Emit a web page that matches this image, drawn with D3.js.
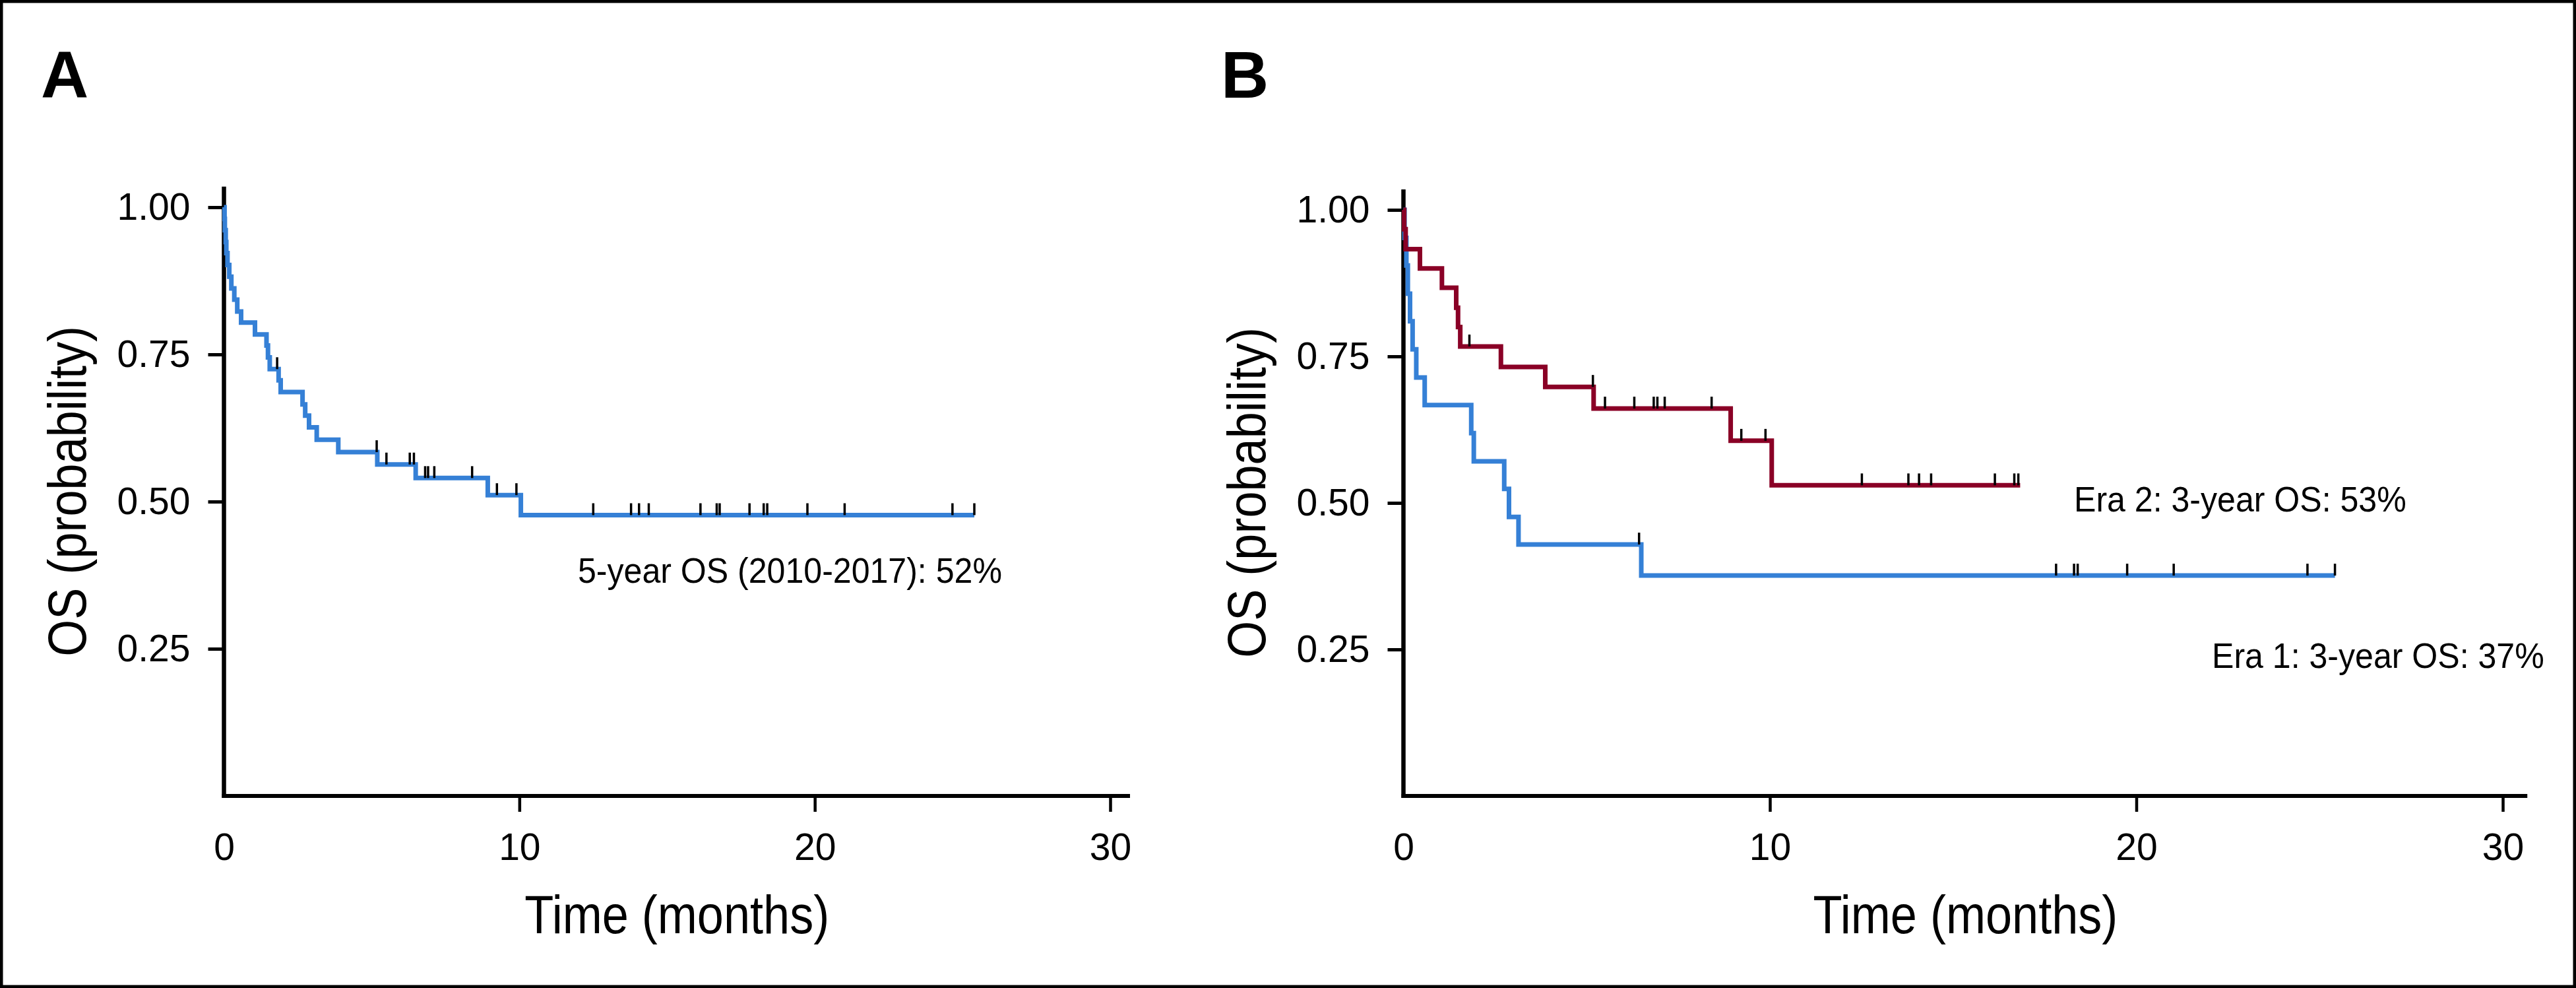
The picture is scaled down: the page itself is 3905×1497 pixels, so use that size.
<!DOCTYPE html>
<html>
<head>
<meta charset="utf-8">
<script src="https://cdn.jsdelivr.net/npm/d3@7"></script>
<style>
body { margin: 0; background: #fff; }
</style>
</head>
<body>
<svg id="chart"></svg>
<script>
const W = 3905, H = 1497;
const font = "'Liberation Sans', Arial, Helvetica, sans-serif";

// axis ticks
const xTicks = [0, 10, 20, 30];
const yTicks = [0.25, 0.50, 0.75, 1.00];

// panel A: all patients (2010-2017)
const allTimes = [0.02, 0.03, 0.06, 0.08, 0.12, 0.18, 0.25, 0.35, 0.45, 0.58, 1.05, 1.44, 1.49, 1.55,
                  1.85, 1.92, 2.66, 2.75, 2.88, 3.14, 3.87, 5.19, 6.49, 8.93, 10.05];
const allSurv = [0.980, 0.961, 0.941, 0.922, 0.902, 0.882, 0.862, 0.843, 0.823, 0.804, 0.784, 0.765, 0.745, 0.725,
                 0.706, 0.686, 0.665, 0.646, 0.626, 0.605, 0.584, 0.563, 0.540, 0.511, 0.477];
const allCensor = [1.80, 5.17, 5.50, 6.29, 6.43, 6.81, 6.91, 7.12, 8.40, 9.24, 9.90, 12.50, 13.78, 14.05, 14.38,
                   16.13, 16.68, 16.78, 17.79, 18.27, 18.39, 19.75, 21.01, 24.66, 25.40];
const allEnd = 25.40;

// panel B: era 1
const era1Times = [0.03, 0.08, 0.12, 0.18, 0.25, 0.35, 0.58, 1.85, 1.92, 2.75, 2.88, 3.14, 6.49];
const era1Surv = [0.952, 0.905, 0.857, 0.810, 0.762, 0.714, 0.667, 0.619, 0.571, 0.524, 0.476, 0.429, 0.376];
const era1Censor = [6.43, 17.81, 18.30, 18.40, 19.75, 21.02, 24.67, 25.42];
const era1End = 25.42;

// panel B: era 2
const era2Times = [0.02, 0.06, 0.45, 1.05, 1.44, 1.49, 1.55, 2.66, 3.87, 5.19, 8.93, 10.05];
const era2Surv = [0.967, 0.933, 0.900, 0.867, 0.833, 0.800, 0.767, 0.732, 0.698, 0.661, 0.606, 0.530];
const era2Censor = [1.80, 5.17, 5.50, 6.30, 6.83, 6.93, 7.13, 8.41, 9.22, 9.88, 12.51, 13.78, 14.07, 14.40,
                    16.14, 16.67, 16.78];
const era2End = 16.83;

const blue = "#3580d6", red = "#8a0026";

const svg = d3.select("#chart")
    .attr("width", W)
    .attr("height", H);

svg.append("rect")
    .attr("width", W)
    .attr("height", H)
    .attr("fill", "#fff");

// frame
svg.append("rect")
    .attr("x", 2.25)
    .attr("y", 2.25)
    .attr("width", W - 4.5)
    .attr("height", H - 4.5)
    .attr("fill", "none")
    .attr("stroke", "#000")
    .attr("stroke-width", 4.5);

function levelAt(times, surv, t) {
    let s = 1;
    times.forEach((tt, i) => { if (tt <= t) s = surv[i]; });
    return s;
}

// narrow-ish text, the original uses a condensed face
function label(g, x, y, size, sx, txt, rot) {
    return g.append("text")
        .attr("transform", `translate(${x},${y})` + (rot ? ` rotate(${rot})` : "") + ` scale(${sx},1)`)
        .attr("font-family", font)
        .attr("font-size", size)
        .text(txt);
}

function drawPanel(p) {
    const x = d3.scaleLinear().domain([0, 30]).range(p.xRange);
    const y = d3.scaleLinear().domain([0, 1]).range(p.yRange);
    const g = svg.append("g");

    // y axis
    const yAxis = g.append("g")
        .attr("transform", `translate(${x(0)},0)`)
        .call(d3.axisLeft(y).tickValues(yTicks).tickFormat(d3.format(".2f")).tickSize(24).tickPadding(27));
    yAxis.select(".domain").remove();
    yAxis.attr("font-size", 57).attr("font-family", font);
    yAxis.selectAll(".tick line").attr("stroke", "#000").attr("stroke-width", 5);
    yAxis.selectAll(".tick text").attr("fill", "#000");

    // x axis
    const xAxis = g.append("g")
        .attr("transform", `translate(0,${y(0)})`)
        .call(d3.axisBottom(x).tickValues(xTicks).tickSize(24).tickPadding(33));
    xAxis.select(".domain").remove();
    xAxis.attr("font-size", 57).attr("font-family", font);
    xAxis.selectAll(".tick line")
        .attr("stroke", "#000")
        .attr("stroke-width", 4.5)
        .attr("display", d => d === 0 ? "none" : null);
    xAxis.selectAll(".tick text").attr("fill", "#000");

    // axis lines
    g.append("line")
        .attr("x1", x(0)).attr("x2", x(0))
        .attr("y1", y(1.035)).attr("y2", y(0) + 3)
        .attr("stroke", "#000")
        .attr("stroke-width", 6.5);
    g.append("line")
        .attr("x1", x(0) - 3).attr("x2", x(30.67))
        .attr("y1", y(0)).attr("y2", y(0))
        .attr("stroke", "#000")
        .attr("stroke-width", 6);

    // curves
    const line = d3.line()
        .x(d => x(d[0]))
        .y(d => y(d[1]))
        .curve(d3.curveStepAfter);

    p.series.forEach(s => {
        const pts = [[0, 1]].concat(s.times.map((t, i) => [t, s.surv[i]]));
        pts.push([s.end, s.surv[s.surv.length - 1]]);
        g.append("path")
            .attr("d", line(pts))
            .attr("fill", "none")
            .attr("stroke", s.color)
            .attr("stroke-width", 7);
    });

    // censor marks
    p.series.forEach(s => {
        g.selectAll(null)
            .data(s.censor)
            .enter().append("line")
            .attr("x1", d => x(d)).attr("x2", d => x(d))
            .attr("y1", d => y(levelAt(s.times, s.surv, d)))
            .attr("y2", d => y(levelAt(s.times, s.surv, d)) - 18)
            .attr("stroke", "#000")
            .attr("stroke-width", 3.5);
    });

    // titles
    label(g, (x(0) + x(30.67)) / 2, 1414, 81, 0.89, "Time (months)")
        .attr("text-anchor", "middle");
    label(g, x(0) - 210, (y(0) + y(1.035)) / 2, 81, 0.89, "OS (probability)", -90)
        .attr("text-anchor", "middle");

    g.append("text")
        .attr("x", p.letterX)
        .attr("y", 148)
        .attr("font-family", font)
        .attr("font-weight", "bold")
        .attr("font-size", 100)
        .text(p.letter);

    p.notes.forEach(n => {
        label(g, n.x, n.y, 53, 0.945, n.text);
    });
}

drawPanel({
    letter: "A",
    letterX: 62,
    xRange: [339.5, 1683],
    yRange: [1206, 314],
    series: [
        {times: allTimes, surv: allSurv, censor: allCensor, end: allEnd, color: blue}
    ],
    notes: [
        {x: 876, y: 883, text: "5-year OS (2010-2017): 52%"}
    ]
});

drawPanel({
    letter: "B",
    letterX: 1851,
    xRange: [2127.5, 3794],
    yRange: [1206, 318],
    series: [
        {times: era1Times, surv: era1Surv, censor: era1Censor, end: era1End, color: blue},
        {times: era2Times, surv: era2Surv, censor: era2Censor, end: era2End, color: red}
    ],
    notes: [
        {x: 3144, y: 775, text: "Era 2: 3-year OS: 53%"},
        {x: 3353, y: 1012, text: "Era 1: 3-year OS: 37%"}
    ]
});
</script>
</body>
</html>
